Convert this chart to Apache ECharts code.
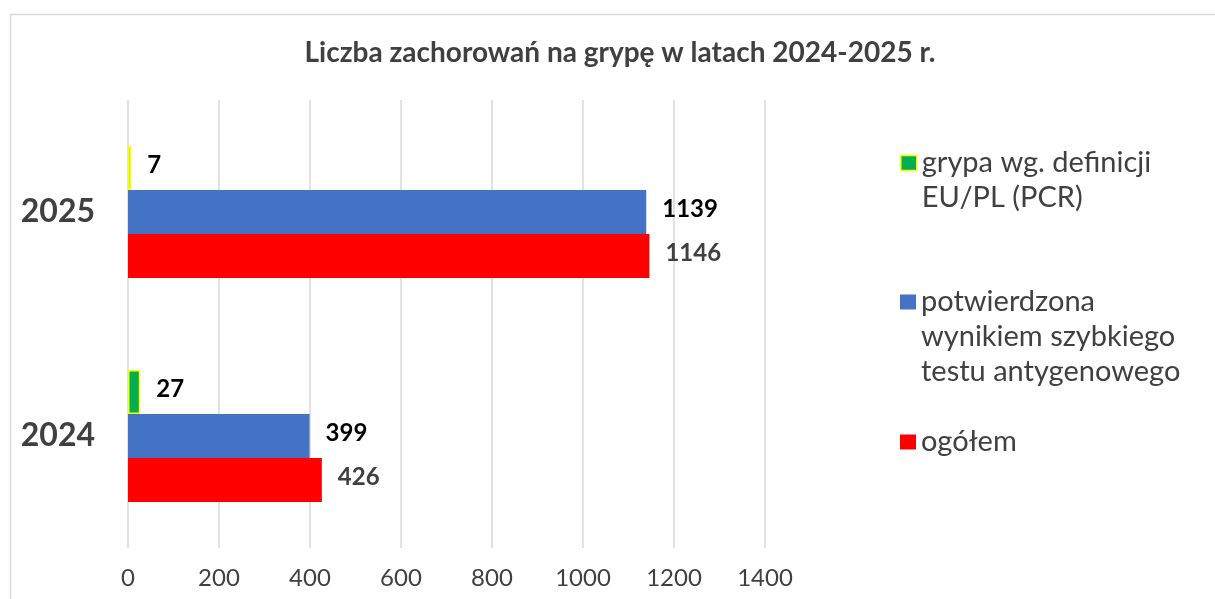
<!DOCTYPE html>
<html><head><meta charset="utf-8">
<script src="https://cdn.jsdelivr.net/npm/echarts@6/dist/echarts.min.js"></script>
<style>html,body{margin:0;padding:0;background:#fff}#c{width:1215px;height:599px}</style>
</head><body><div id="c"></div>
<script>
const categories = ['2024', '2025'];
const xTicks = [0, 200, 400, 600, 800, 1000, 1200, 1400];
const seriesNames = ['grypa wg. definicji EU/PL (PCR)', 'potwierdzona wynikiem szybkiego testu antygenowego', 'ogółem'];
const legendLines = [['grypa wg. definicji', 'EU/PL (PCR)'], ['potwierdzona', 'wynikiem szybkiego', 'testu antygenowego'], ['ogółem']];
const pcrValues = [27, 7];
const rapidValues = [399, 1139];
const totalValues = [426, 1146];

const FONT = 'Lato';
const chart = echarts.init(document.getElementById('c'), null, {renderer: 'canvas'});
const L = 35;
function legendFor(name, lines, iconCenter, icon) {
  const n = lines.length;
  const text = Array(n - 1).fill(' ').concat(lines).join('\n');
  return {
    show: true, orient: 'vertical', left: 900, top: iconCenter - (2 * n - 1) * L / 2,
    padding: 0, itemWidth: 16, itemHeight: 15, itemGap: 0, selectedMode: false, icon: 'rect',
    data: [{name: name, itemStyle: icon}],
    formatter: () => text,
    textStyle: {fontFamily: FONT, fontSize: 29, color: '#404040', lineHeight: L}
  };
}
const lbl = (color) => ({show: true, position: 'right', distance: 16, fontFamily: FONT, fontWeight: 'bold', fontSize: 24, color: color, offset: [0, -3]});
chart.setOption({
  animation: false,
  title: {text: 'Liczba zachorowań na grypę w latach 2024-2025 r.', left: 615, textAlign: 'center', top: 34,
    textStyle: {fontFamily: FONT, fontWeight: 'bold', fontSize: 28, color: '#404040'}},
  graphic: [{type: 'rect', shape: {x: 10.5, y: 14.5, width: 1220, height: 600}, style: {fill: 'none', stroke: '#D9D9D9', lineWidth: 1.5}, silent: true}],
  legend: [
    legendFor(seriesNames[0], legendLines[0], 163, {color: '#00B050', borderColor: '#FFFF00', borderWidth: 1.5}),
    legendFor(seriesNames[1], legendLines[1], 302, {color: '#4472C4'}),
    legendFor(seriesNames[2], legendLines[2], 442, {color: '#FF0000'})
  ],
  grid: {left: 128, right: 450, top: 100, bottom: 51, containLabel: false},
  xAxis: {type: 'value', min: xTicks[0], max: xTicks[xTicks.length - 1], interval: 200,
    axisLine: {show: false}, axisTick: {show: false},
    splitLine: {show: true, lineStyle: {color: '#D9D9D9', width: 1.5}},
    axisLabel: {fontFamily: FONT, fontSize: 24, color: '#404040', margin: 18, formatter: (v) => String(v)}},
  yAxis: {type: 'category', data: categories, axisLine: {show: false}, axisTick: {show: false},
    axisLabel: {fontFamily: FONT, fontWeight: 'bold', fontSize: 32, color: '#404040', margin: 33}},
  series: [
    {name: seriesNames[0], type: 'bar', data: pcrValues, barGap: '0%', barCategoryGap: '41%',
      itemStyle: {color: '#00B050', borderColor: '#FFFF00', borderWidth: 1.5}, label: lbl('#000000')},
    {name: seriesNames[1], type: 'bar', data: rapidValues,
      itemStyle: {color: '#4472C4'}, label: lbl('#000000')},
    {name: seriesNames[2], type: 'bar', data: totalValues,
      itemStyle: {color: '#FF0000'}, label: lbl('#404040')}
  ]
});
</script></body></html>
